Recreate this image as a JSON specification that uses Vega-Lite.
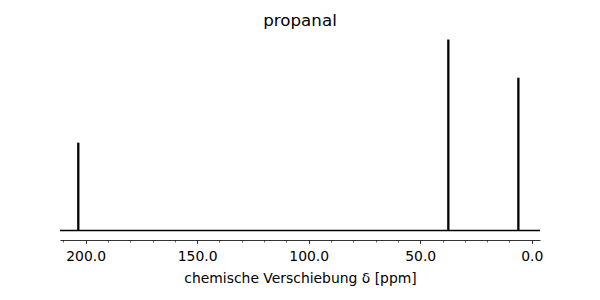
{
  "$schema": "https://vega.github.io/schema/vega-lite/v6.json",
  "width": 480,
  "height": 210,
  "autosize": "none",
  "padding": {"left": 60, "top": 30, "right": 60, "bottom": 60},
  "background": "white",
  "title": {"text": "propanal", "font": "DejaVu Sans", "fontSize": 16.7, "fontWeight": "normal", "color": "black", "baseline": "alphabetic", "offset": 7, "dy": 20, "anchor": "middle"},
  "config": {"view": {"stroke": null}},
  "datasets": {
    "peaks": [
      {"shift": 203.3, "height": 0.46},
      {"shift": 37.4, "height": 1.0},
      {"shift": 6.0, "height": 0.80}
    ],
    "base": [{"from": -3.7, "to": 211.5, "y": 0}]
  },
  "layer": [
    {
      "data": {"name": "base"},
      "mark": {"type": "rule", "color": "black", "strokeWidth": 1.4},
      "encoding": {
        "x": {"field": "from", "type": "quantitative",
          "scale": {"domain": [-3.7, 211.5], "reverse": true, "nice": false, "zero": false},
          "axis": {"orient": "bottom", "values": [0, 50, 100, 150, 200], "format": ".1f",
            "labelFont": "DejaVu Sans", "labelFontSize": 13.9, "labelColor": "black", "labelPadding": 6,
            "tickSize": 3.5, "tickWidth": 0.8, "tickColor": "black", "domainColor": "black", "domainWidth": 0.8,
            "grid": false, "labelFlush": false, "labelOverlap": false,
            "title": "chemische Verschiebung δ [ppm]", "titleFont": "DejaVu Sans", "titleFontSize": 13.9,
            "titleFontWeight": "normal", "titleColor": "black", "titlePadding": 8}},
        "x2": {"field": "to"},
        "y": {"field": "y", "type": "quantitative", "scale": {"domain": [-0.05, 1.05], "nice": false, "zero": false}, "axis": null}
      }
    },
    {
      "data": {"name": "peaks"},
      "mark": {"type": "rule", "color": "black", "strokeWidth": 2.3},
      "encoding": {
        "x": {"field": "shift", "type": "quantitative",
          "scale": {"domain": [-3.7, 211.5], "reverse": true, "nice": false, "zero": false},
          "axis": {"orient": "bottom", "values": [10, 20, 30, 40, 60, 70, 80, 90, 110, 120, 130, 140, 160, 170, 180, 190, 210],
            "labels": false, "domain": false, "grid": false, "tickSize": 2, "tickWidth": 0.6, "tickColor": "black", "title": null}},
        "y": {"field": "height", "type": "quantitative", "scale": {"domain": [-0.05, 1.05], "nice": false, "zero": false}, "axis": null},
        "y2": {"datum": 0}
      }
    }
  ],
  "resolve": {"axis": {"x": "independent"}}
}
